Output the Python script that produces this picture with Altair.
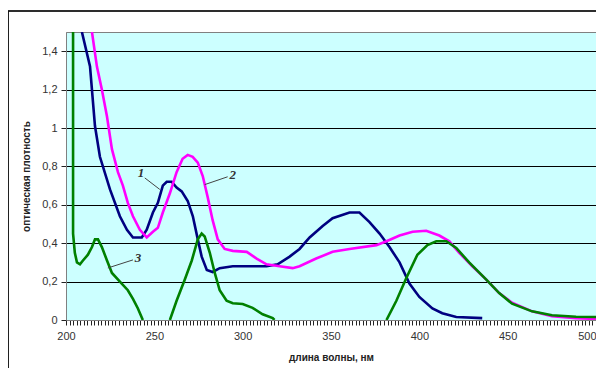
import altair as alt
import pandas as pd

# Curve 1 (navy)
x1 = [209, 213.6, 216.4, 219.2, 224.9, 230.5, 234.5, 237.9, 242.9, 245.7, 249.2, 252, 254.8, 257, 259.8,
      262.6, 265.5, 268.9, 271.8, 274.6, 276.8, 279.7, 283, 287, 294.4, 302, 313.5, 319.8, 326.6, 332.2,
      337.9, 345.3, 350.9, 360.5, 366.1, 371.8, 377.5, 383.1, 388.8, 394.4, 400, 407.4, 413, 420.9, 435.6]
y1 = [1.5, 1.32, 1.01, 0.85, 0.68, 0.54, 0.47, 0.43, 0.43, 0.47, 0.56, 0.61, 0.70, 0.72, 0.72,
      0.69, 0.67, 0.62, 0.54, 0.42, 0.33, 0.26, 0.25, 0.27, 0.28, 0.28, 0.28, 0.29, 0.33, 0.37,
      0.43, 0.49, 0.53, 0.56, 0.56, 0.51, 0.45, 0.38, 0.30, 0.19, 0.12, 0.06, 0.035, 0.016, 0.01]

# Curve 2 (magenta)
x2 = [214.7, 217.5, 220.3, 223.2, 226, 229.4, 232.2, 235, 237.9, 241.8, 245.7, 249.2, 252, 254.8, 258.8,
      262.6, 266, 268.9, 271.7, 274.6, 277.4, 280.2, 283, 285.9, 289.8, 294.4, 302.3, 307.9, 313.5, 320.9,
      328.3, 332.2, 341.6, 350.9, 360.5, 375.7, 381.4, 388.8, 396.2, 403.9, 411.3, 417, 422.6, 430, 437.9,
      445.2, 452.5, 463.8, 475.1, 488.7, 500]
y2 = [1.5, 1.32, 1.20, 1.06, 0.89, 0.77, 0.70, 0.61, 0.54, 0.47, 0.43, 0.46, 0.48, 0.56, 0.66,
      0.77, 0.84, 0.86, 0.85, 0.82, 0.75, 0.64, 0.52, 0.42, 0.37, 0.36, 0.355, 0.32, 0.29, 0.28,
      0.27, 0.28, 0.32, 0.355, 0.37, 0.39, 0.41, 0.44, 0.46, 0.465, 0.44, 0.41, 0.35, 0.28, 0.21,
      0.14, 0.09, 0.045, 0.02, 0.01, 0.005]

# Curve 3 (green), three visible pieces
x3a = [204, 204, 205, 206.2, 207.9, 209.6, 212.4, 214.7, 216.4, 218.1, 220.3, 223.2, 226, 230.5, 235,
       237.9, 240.7, 243.5]
y3a = [1.5, 0.45, 0.35, 0.30, 0.29, 0.31, 0.34, 0.38, 0.42, 0.42, 0.38, 0.31, 0.245, 0.20, 0.155,
       0.11, 0.06, 0.0]
x3b = [258.8, 262.6, 267.2, 271.2, 274.6, 276.8, 278.5, 281.4, 284.2, 287, 290.9, 294.4, 300, 305.6,
       311.3, 317, 318]
y3b = [0.0, 0.10, 0.21, 0.31, 0.42, 0.45, 0.435, 0.35, 0.245, 0.155, 0.10, 0.087, 0.083, 0.063,
       0.03, 0.01, 0.0]
x3c = [381.4, 387, 392.7, 398.9, 404.6, 409.6, 415.3, 420.9, 428.2, 437.9, 445.2, 452.5, 463.8, 475.1,
       488.7, 500]
y3c = [0.0, 0.10, 0.22, 0.34, 0.39, 0.41, 0.41, 0.375, 0.30, 0.21, 0.14, 0.085, 0.045, 0.025,
       0.017, 0.016]

# Curve labels and leader lines
label_text = ["1", "2", "3"]
label_x = [242.4, 294.4, 240.7]
label_y = [0.767, 0.757, 0.324]
lead_x1 = [244.6, 291.5, 237.9]
lead_y1 = [0.74, 0.746, 0.313]
lead_x2 = [253.1, 278.5, 223.7]
lead_y2 = [0.68, 0.705, 0.271]

y_ticks = [0, 0.2, 0.4, 0.6, 0.8, 1.0, 1.2, 1.4]

rows = []
for s, seg, xs, ys in [("1", "1", x1, y1), ("2", "2", x2, y2),
                       ("3", "3a", x3a, y3a), ("3", "3b", x3b, y3b), ("3", "3c", x3c, y3c)]:
    for i, (a, b) in enumerate(zip(xs, ys)):
        rows.append({"series": s, "seg": seg, "x": a, "y": b, "order": i})
df = pd.DataFrame(rows)

lab = pd.DataFrame({"t": label_text, "x": label_x, "y": label_y})
lead = pd.DataFrame({"x": lead_x1, "y": lead_y1, "x2": lead_x2, "y2": lead_y2})

minor = list(range(200, 501, 2))

xscale = alt.Scale(domain=[200, 500], nice=False, zero=False)
yscale = alt.Scale(domain=[0, 1.5], nice=False)

xaxis = alt.Axis(values=minor, labelExpr="datum.value % 50 == 0 ? datum.label : ''",
                 labelAlign={"condition": {"test": "datum.value >= 500", "value": "right"},
                             "value": "center"},
                 labelOverlap=False, labelFlush=False, tickSize=5, tickColor="#222",
                 domainColor="#808080", grid=False, labelFont="Liberation Sans",
                 labelFontSize=11, labelColor="#333", labelPadding=5,
                 titleFont="Liberation Sans", titleFontSize=10, titleFontWeight="bold",
                 titleColor="#222", titlePadding=11)
yaxis = alt.Axis(values=y_ticks, format="~g", labelExpr="replace(datum.label, '.', ',')",
                 tickSize=5, tickColor="#222", domainColor="#808080",
                 grid=True, gridColor="#000000", gridWidth=1,
                 labelFont="Liberation Sans", labelFontSize=11, labelColor="#333",
                 labelPadding=4, titleFont="Liberation Sans", titleFontSize=10,
                 titleFontWeight="bold", titleColor="#222", titlePadding=10)

X = alt.X("x:Q", scale=xscale, title="длина волны, нм", axis=xaxis)
Y = alt.Y("y:Q", scale=yscale, title="оптическая плотность", axis=yaxis)

lines = alt.Chart(df).mark_line(strokeWidth=2.6, clip=True).encode(
    x=X, y=Y,
    color=alt.Color("series:N", scale=alt.Scale(domain=["1", "2", "3"],
                                                range=["#000080", "#FF00FF", "#008000"]),
                    legend=None),
    detail="seg:N",
    order="order:Q",
)

labels = alt.Chart(lab).mark_text(font="Liberation Serif", fontSize=13, fontWeight="bold",
                                  fontStyle="italic", color="#333").encode(x=X, y=Y, text="t:N")

leaders = alt.Chart(lead).mark_rule(color="#444", strokeWidth=1).encode(
    x=X, y=Y, x2="x2:Q", y2="y2:Q")

top_border = alt.Chart(lab).mark_rule(color="#111", strokeWidth=1.2).encode(
    x=alt.value(-58), x2=alt.value(540), y=alt.value(-21))
left_border = alt.Chart(lab).mark_rule(color="#111", strokeWidth=1.2).encode(
    x=alt.value(-58), y=alt.value(-21), y2=alt.value(400))

chart = alt.layer(lines, leaders, labels, top_border, left_border).properties(
    width=530, height=288,
    autosize=alt.AutoSizeParams(type="none"),
    padding={"left": 58, "top": 24, "right": 0, "bottom": 48},
    background="white",
).configure_view(fill="#CCFFFF", stroke="#808080", strokeWidth=1)

chart.save("out.html", embed_options={"renderer": "svg", "actions": False})
